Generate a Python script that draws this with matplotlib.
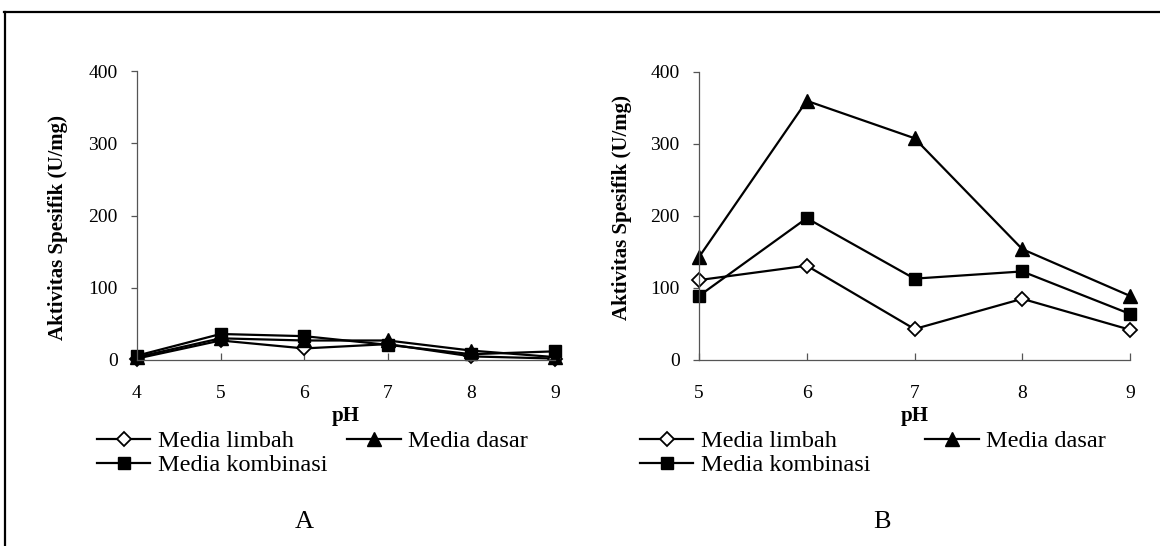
import matplotlib
matplotlib.use('Agg')
import matplotlib.pyplot as plt
from matplotlib.lines import Line2D

plt.rcParams['font.family'] = ['Liberation Serif', 'DejaVu Serif']

ph_a = [4, 5, 6, 7, 8, 9]
limbah_a = [2, 27, 16, 22, 5, 2]
dasar_a = [4, 30, 27, 27, 13, 4]
kombinasi_a = [6, 36, 33, 21, 8, 12]

ph_b = [5, 6, 7, 8, 9]
limbah_b = [111, 131, 43, 85, 42]
dasar_b = [143, 360, 308, 154, 89]
kombinasi_b = [89, 197, 113, 123, 64]

series_names = ['Media limbah', 'Media dasar', 'Media kombinasi']
y_ticks = [0, 100, 200, 300, 400]

W, H = 1160, 546
fig = plt.figure(figsize=(W / 100, H / 100), dpi=100)

# outer frame (top and left edges visible only)
fig.add_artist(Line2D([4 / W, 1], [1 - 11.5 / H, 1 - 11.5 / H], color='black', lw=1.6,
                      transform=fig.transFigure))
fig.add_artist(Line2D([4.5 / W, 4.5 / W], [0, 1 - 11.5 / H], color='black', lw=1.6,
                      transform=fig.transFigure))


def px_axes(left, right, top, bottom):
    return fig.add_axes([left / W, 1 - bottom / H, (right - left) / W, (bottom - top) / H])


def draw_panel(ax, x, limbah, dasar, kombinasi, ylab_xy, legend_x, colspace, letter, letter_x):
    l1, = ax.plot(x, limbah, color='black', lw=1.6, marker='D', ms=7.5,
                  mfc='white', mec='black', mew=1.3, clip_on=False)
    l2, = ax.plot(x, dasar, color='black', lw=1.6, marker='^', ms=10.5,
                  mfc='black', mec='black', clip_on=False)
    l3, = ax.plot(x, kombinasi, color='black', lw=1.6, marker='s', ms=9,
                  mfc='black', mec='black', clip_on=False)
    ax.set_xlim(x[0], x[-1])
    ax.set_ylim(0, 400)
    ax.set_xticks(x)
    ax.set_yticks(y_ticks)
    for s in ['top', 'right']:
        ax.spines[s].set_visible(False)
    for s in ['left', 'bottom']:
        ax.spines[s].set_color('#555555')
        ax.spines[s].set_linewidth(0.9)
    ax.tick_params(axis='x', direction='in', length=5, width=0.9, color='#555555',
                   pad=18, labelsize=14)
    ax.tick_params(axis='y', direction='out', length=4, width=0.9, color='#555555',
                   pad=10, labelsize=14)
    ax.set_xlabel('pH', fontsize=15, fontweight='bold')
    ax.xaxis.set_label_coords(0.5, -0.16)
    ax.set_ylabel('Aktivitas Spesifik (U/mg)', fontsize=15, fontweight='bold', va='center')
    ax.yaxis.set_label_coords(*ylab_xy)

    fig.legend([l1, l3, l2], [series_names[0], series_names[2], series_names[1]],
               ncol=2, loc='upper left', bbox_to_anchor=(legend_x / W, 1 - 430 / H),
               frameon=False, fontsize=17.5, handlelength=2.2, handletextpad=0.3,
               columnspacing=colspace, labelspacing=0.1, borderpad=0, borderaxespad=0)
    fig.text(letter_x / W, 1 - 522 / H, letter, fontsize=19, ha='center', va='center')


ax_a = px_axes(137, 555, 71, 360)
draw_panel(ax_a, ph_a, limbah_a, dasar_a, kombinasi_a, (-0.189, 0.457), 97, 0.82, 'A', 304)

ax_b = px_axes(699, 1130, 72, 360)
draw_panel(ax_b, ph_b, limbah_b, dasar_b, kombinasi_b, (-0.179, 0.53), 640, 2.26, 'B', 882)

fig.savefig('out.png', dpi=100)
